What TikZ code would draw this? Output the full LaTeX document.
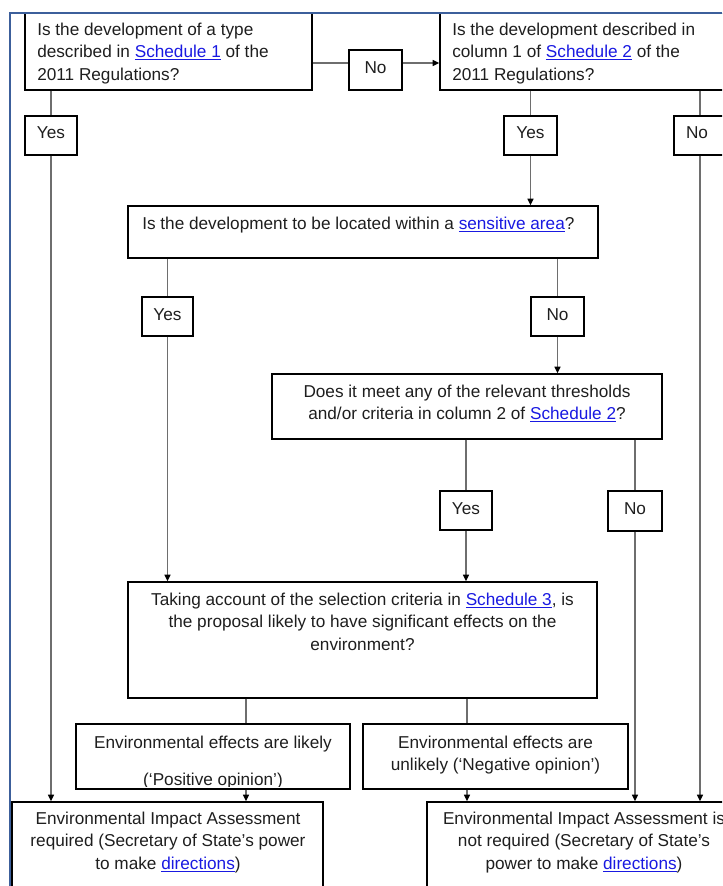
\documentclass[tikz,border=0pt]{standalone}
\usepackage{fontspec}
\setmainfont{Liberation Sans}
\usetikzlibrary{arrows.meta,fit}
\definecolor{linkblue}{RGB}{25,25,225}
\definecolor{framecol}{RGB}{60,95,155}
\definecolor{linecol}{RGB}{110,110,110}
\definecolor{txtcol}{RGB}{30,30,30}
\newcommand\lnk[1]{\textcolor{linkblue}{\setbox0\hbox{#1}\rlap{\rule[-1.9pt]{\wd0}{0.75pt}}\box0}}
\begin{document}
\begin{tikzpicture}[x=0.75pt,y=-0.75pt,
  box/.style={draw=black, line width=1.1pt, inner sep=0pt},
  txt/.style={inner sep=0pt, text=txtcol, font=\fontsize{12.9pt}{16.9pt}\selectfont},
  lt/.style={txt, anchor=base west},
  ct/.style={txt, anchor=base},
  conn/.style={draw=linecol, line width=1pt},
  arr/.style={conn, -{Triangle[length=5pt,width=4.5pt,color=black]}}]
\useasboundingbox (0,0) rectangle (722,886);
\begin{scope}
\clip (10,13) rectangle (722,886);
% boxes
\node[box, fit={(25,13) (312,90)}] (A) {};
\node[box, fit={(349,50) (402,90)}] (No1) {};
\node[box, fit={(440,13) (760,90)}] (B) {};
\node[box, fit={(25,116) (77,155)}] (Y1) {};
\node[box, fit={(504,116) (557,155)}] (Y2) {};
\node[box, fit={(674,116) (726,155)}] (N2) {};
\node[box, fit={(128,206) (598,258)}] (C) {};
\node[box, fit={(142,297) (193,336)}] (Y3) {};
\node[box, fit={(531,297) (584,336)}] (N3) {};
\node[box, fit={(272,374) (662,439)}] (D) {};
\node[box, fit={(440,491) (492,530)}] (Y4) {};
\node[box, fit={(608,491) (662,531)}] (N4) {};
\node[box, fit={(128,582) (597,698)}] (E) {};
\node[box, fit={(76,724) (350,789)}] (F) {};
\node[box, fit={(363,724) (628,789)}] (G) {};
\node[box, fit={(12,802) (323,910)}] (H) {};
\node[box, fit={(427,802) (741,910)}] (K) {};
% connectors
\coordinate (h1) at (0,63);
\coordinate (cF) at (246,0);
\coordinate (cG) at (467,0);
\draw[conn] (A.east |- h1) -- (No1.west |- h1);
\draw[arr] (No1.east |- h1) -- (B.west |- h1);
\draw[conn] (A.south -| Y1) -- (Y1.north);
\draw[arr] (Y1.south) -- (H.north -| Y1);
\draw[conn] (B.south -| Y2) -- (Y2.north);
\draw[arr] (Y2.south) -- (C.north -| Y2);
\draw[conn] (B.south -| N2) -- (N2.north);
\draw[arr] (N2.south) -- (K.north -| N2);
\draw[conn] (C.south -| Y3) -- (Y3.north);
\draw[arr] (Y3.south) -- (E.north -| Y3);
\draw[conn] (C.south -| N3) -- (N3.north);
\draw[arr] (N3.south) -- (D.north -| N3);
\draw[conn] (D.south -| Y4) -- (Y4.north);
\draw[arr] (Y4.south) -- (E.north -| Y4);
\draw[conn] (D.south -| N4) -- (N4.north);
\draw[arr] (N4.south) -- (K.north -| N4);
\draw[conn] (E.south -| cF) -- (F.north -| cF);
\draw[arr] (F.south -| cF) -- (H.north -| cF);
\draw[conn] (E.south -| cG) -- (G.north -| cG);
\draw[arr] (G.south -| cG) -- (K.north -| cG);
% texts
\node[lt] (At1) at (37,35) {Is the development of a type};
\node[lt] (At2) at (37,57.5) {described in \lnk{Schedule 1} of the};
\node[lt] (At3) at (37,80) {2011 Regulations?};
\node[ct] (No1t) at (375.5,73) {No};
\node[lt] (Bt1) at (452,35) {Is the development described in};
\node[lt] (Bt2) at (452,57.5) {column 1 of \lnk{Schedule 2} of the};
\node[lt] (Bt3) at (452,80) {2011 Regulations?};
\node[ct] (Y1t) at (51,138) {Yes};
\node[ct] (Y2t) at (530.5,138) {Yes};
\node[ct] (N2t) at (697,138) {No};
\node[lt] (Ct) at (142,229) {Is the development to be located within a \lnk{sensitive area}?};
\node[ct] (Y3t) at (167.5,320) {Yes};
\node[ct] (N3t) at (557.5,320) {No};
\node[ct] (Dt1) at (467,397) {Does it meet any of the relevant thresholds};
\node[ct] (Dt2) at (467,419.5) {and/or criteria in column 2 of \lnk{Schedule 2}?};
\node[ct] (Y4t) at (466,514) {Yes};
\node[ct] (N4t) at (635,514) {No};
\node[ct] (Et1) at (362.5,605) {Taking account of the selection criteria in \lnk{Schedule 3}, is};
\node[ct] (Et2) at (362.5,627.5) {the proposal likely to have significant effects on the};
\node[ct] (Et3) at (362.5,650) {environment?};
\node[ct] (Ft1) at (213,748) {Environmental effects are likely};
\begin{scope}
\clip (76,724) rectangle (350,786);
\node[ct] (Ft2) at (213,785) {(`Positive opinion')};
\end{scope}
\node[ct] (Gt1) at (495.5,748) {Environmental effects are};
\node[ct] (Gt2) at (495.5,770.5) {unlikely (`Negative opinion')};
\node[ct] (Ht1) at (168,824) {Environmental Impact Assessment};
\node[ct] (Ht2) at (168,846.5) {required (Secretary of State's power};
\node[ct] (Ht3) at (168,869) {to make \lnk{directions})};
\node[ct] (Kt1) at (584,824) {Environmental Impact Assessment is};
\node[ct] (Kt2) at (584,846.5) {not required (Secretary of State's};
\node[ct] (Kt3) at (584,869) {power to make \lnk{directions})};
\end{scope}
\draw[framecol, line width=1.2pt] (10,886) -- (10,13) -- (722,13);
\end{tikzpicture}
\end{document}
